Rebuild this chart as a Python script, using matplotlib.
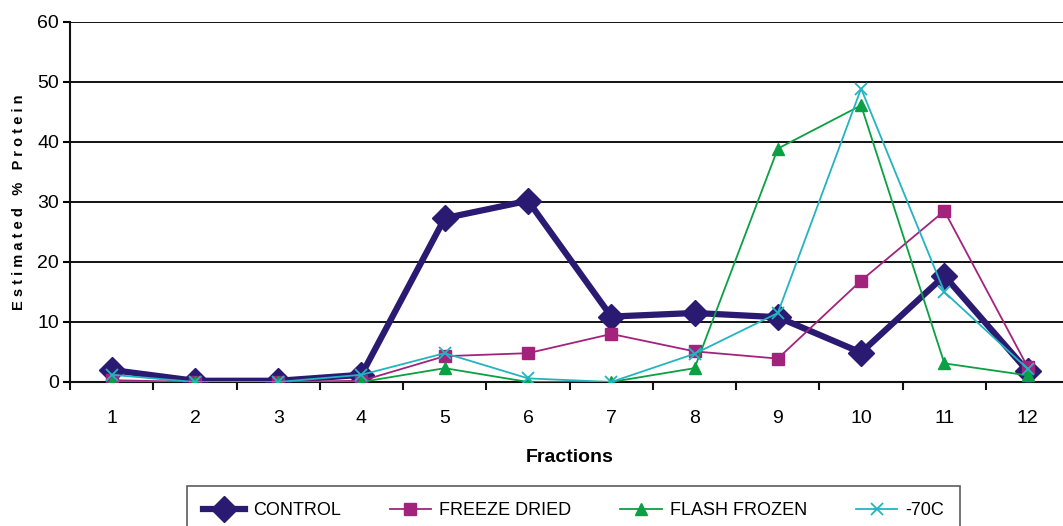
import matplotlib.pyplot as plt
import matplotlib.ticker as ticker

plt.rcParams['font.family'] = ['Liberation Sans', 'DejaVu Sans']

fractions = list(range(1, 13))
control = [2.0, 0.2, 0.2, 1.2, 27.3, 30.2, 10.9, 11.5, 10.8, 4.9, 17.7, 1.8]
freeze_dried = [0.3, 0.0, 0.0, 0.2, 4.3, 4.8, 8.0, 5.1, 3.9, 16.9, 28.5, 2.5]
flash_frozen = [0.0, 0.0, 0.0, 0.0, 2.3, 0.0, 0.0, 2.3, 38.9, 46.1, 3.1, 1.1]
minus70 = [1.2, 0.0, 0.0, 1.2, 4.8, 0.6, 0.0, 4.7, 11.5, 48.9, 15.0, 2.2]

fig = plt.figure(figsize=(10.63, 5.26), dpi=100)
ax = fig.add_axes([0.0659, 0.2738, 0.94, 0.6844])

ax.plot(fractions, control, color="#2b1a72", lw=4.5, marker="D", ms=13, label="CONTROL", zorder=3)
ax.plot(fractions, freeze_dried, color="#a3237c", lw=1.3, marker="s", ms=8, label="FREEZE DRIED", zorder=4)
ax.plot(fractions, flash_frozen, color="#0aa043", lw=1.3, marker="^", ms=8.5, label="FLASH FROZEN", zorder=4)
ax.plot(fractions, minus70, color="#22b4c0", lw=1.3, marker="x", ms=8, mew=1.3, label="-70C", zorder=5)

ax.set_xlim(0.5, 12.5)
ax.set_ylim(0, 60)
ax.yaxis.set_major_locator(ticker.MultipleLocator(10))
ax.set_xticks(fractions)
ax.set_xticks([i + 0.5 for i in range(12)], minor=True)
ax.tick_params(axis='x', which='major', length=0, pad=20, labelsize=14)
ax.tick_params(axis='x', which='minor', length=6, width=1.5, color="#111111")
ax.tick_params(axis='y', length=5, width=1.5, labelsize=14, pad=3)
ax.grid(axis='y', color="#111111", lw=1.4)
ax.set_axisbelow(True)
for s in ['top', 'right']:
    ax.spines[s].set_visible(False)
for s in ['left', 'bottom']:
    ax.spines[s].set_linewidth(1.5)
    ax.spines[s].set_color("#111111")

ax.set_xlabel("Fractions", fontsize=14, fontweight='bold', labelpad=16)
ax.set_ylabel("E s t i m a t e d   %   P r o t e i n", fontsize=10.5, fontweight='bold', labelpad=8)

leg = fig.legend(loc='lower left', bbox_to_anchor=(0.1675, -0.035),
                 ncol=4, frameon=True, fancybox=False, fontsize=13,
                 handlelength=2.3, handletextpad=0.45, columnspacing=2.7,
                 borderpad=0.9)
leg.get_frame().set_edgecolor("#333333")
leg.get_frame().set_linewidth(1.2)

fig.savefig("out.png", dpi=100)
